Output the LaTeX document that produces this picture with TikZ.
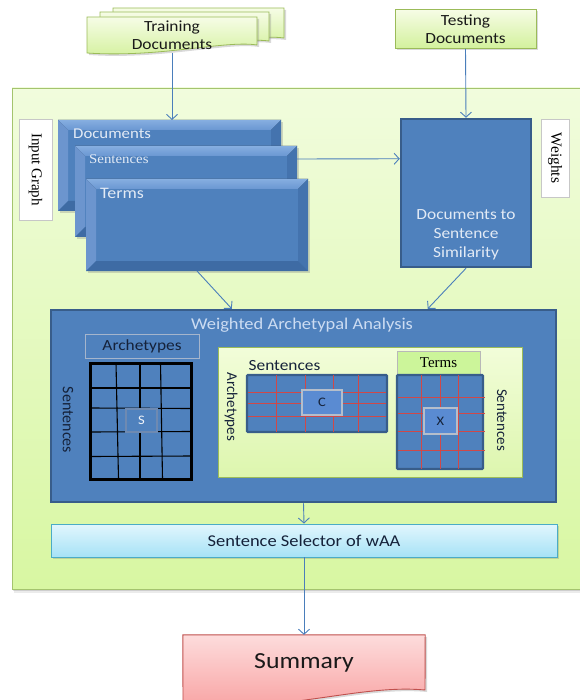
\documentclass[tikz,border=0pt]{standalone}
\usepackage{fontspec}
\setmainfont{Carlito}[FakeStretch=1.12]
\newfontfamily\rotsans{Carlito}
\newfontfamily\serifw{Liberation Serif}[FakeStretch=1.1]
\newfontfamily\serifr{Liberation Serif}
\usetikzlibrary{arrows.meta,calc,shadows}

\definecolor{wablue}{HTML}{4F81BD}
\definecolor{wadark}{HTML}{385D8A}
\definecolor{connc}{HTML}{4A7EBB}
\definecolor{lighttext}{HTML}{E2EAF5}
\definecolor{titletext}{HTML}{CCDCF2}
\definecolor{darktext}{HTML}{15223A}
\definecolor{gridred}{HTML}{D04848}
\definecolor{greenedge}{HTML}{9BBB59}
\definecolor{paneledge}{HTML}{A4C46E}
\definecolor{cellblue}{HTML}{5A8BD2}
\definecolor{celledge}{HTML}{B5BECB}
\definecolor{scelledge}{HTML}{6E8AB2}
\definecolor{scelltext}{HTML}{F2F5FA}
\definecolor{archedge}{HTML}{A5B5CC}
\definecolor{bvtopa}{HTML}{86AEE0}
\definecolor{bvtopb}{HTML}{6A97D2}
\definecolor{bvleft}{HTML}{6C95CE}
\definecolor{bvright}{HTML}{4473AE}
\definecolor{bvbottom}{HTML}{3E6BA4}
\definecolor{paneltop}{HTML}{F1FCDD}
\definecolor{panelbot}{HTML}{D8F7A2}
\definecolor{doctop}{HTML}{F6FCE6}
\definecolor{docbot}{HTML}{D3F19C}
\definecolor{innertop}{HTML}{F2FDD9}
\definecolor{innerbot}{HTML}{DDF6AE}
\definecolor{termsgreen}{HTML}{CCF59A}
\definecolor{seltop}{HTML}{E2F6FD}
\definecolor{selbot}{HTML}{A6E2F6}
\definecolor{seledge}{HTML}{4BACC6}
\definecolor{sumtop}{HTML}{FDDCDC}
\definecolor{sumbot}{HTML}{F8A0A0}
\definecolor{sumedge}{HTML}{C0504D}

% bevelled edges of a raised blue box
\newcommand\bevelize[2]{%
  \fill[top color=bvtopa,bottom color=bvtopb] (#1.north west) -- (#1.north east) -- ($(#1.north east)+(-#2,#2)$) -- ($(#1.north west)+(#2,#2)$) -- cycle;
  \fill[bvleft] (#1.north west) -- ($(#1.north west)+(#2,#2)$) -- ($(#1.south west)+(#2,-#2)$) -- (#1.south west) -- cycle;
  \fill[bvright] (#1.north east) -- ($(#1.north east)+(-#2,#2)$) -- ($(#1.south east)+(-#2,-#2)$) -- (#1.south east) -- cycle;
  \fill[bvbottom] (#1.south west) -- ($(#1.south west)+(#2,-#2)$) -- ($(#1.south east)+(-#2,-#2)$) -- (#1.south east) -- cycle;
}

\begin{document}
\begin{tikzpicture}[x=1pt,y=-1pt,
  conn/.style={draw=connc,line width=0.9pt,-{Straight Barb[length=5pt,width=11pt,line width=0.9pt]}},
  softshadow/.style={drop shadow={opacity=0.3,shadow xshift=2pt,shadow yshift=-2pt}},
  greenfill/.style={top color=doctop,bottom color=docbot,draw=greenedge,line width=0.8pt},
  stackbox/.style={fill=wablue,inner sep=0pt,outer sep=0pt,softshadow},
  stacklabel/.style={anchor=base west,inner sep=0pt,text=lighttext},
  whitetag/.style={draw=black!22,fill=white,line width=0.8pt,inner sep=0pt,text=black},
  matbox/.style={fill=wablue,draw=wadark,line width=2.2pt,rounded corners=1pt,inner sep=0pt},
  cell/.style={fill=cellblue,draw=celledge,line width=1.2pt,inner sep=0pt,text=darktext},
  redgrid/.style={draw=gridred,line width=0.7pt},
  blackgrid/.style={draw=black,line width=1.1pt},
  rottext/.style={rotate=-90,inner sep=0pt,text=darktext}]
\useasboundingbox (0,0) rectangle (579,700);

% large background panel with a soft shadow
\fill[black,opacity=0.08] (14,90) rectangle (597,593);
\fill[black,opacity=0.12] (13,89) rectangle (596,591);
\draw[top color=paneltop,bottom color=panelbot,draw=paneledge,line width=0.8pt] (12,88) rectangle (595,589);

% training documents: a stack of three pages
\draw[greenfill,softshadow] (113,8) -- (284,8) -- (284,38) .. controls (255,34) and (185,46) .. (113,42) -- cycle;
\draw[greenfill,softshadow] (100,12) -- (269,12) -- (269,41) .. controls (240,37) and (170,50) .. (100,47) -- cycle;
\draw[greenfill,softshadow] (87,17) -- (257,17) -- (257,45) .. controls (225,40) and (160,58) .. (87,53) -- cycle;
\node[minimum width=170pt,minimum height=36pt,inner sep=0pt,align=center,text=black!90,
      font=\fontsize{15.5}{18}\selectfont] (train) at (172,35) {Training\\Documents};

% testing documents
\node[greenfill,softshadow,minimum width=141pt,minimum height=39pt,inner sep=0pt,align=center,text=black!90,
      font=\fontsize{15.5}{18.5}\selectfont] (test) at (465.5,29) {Testing\\Documents};

% input graph: documents, sentences, terms
\node[stackbox,minimum width=223pt,minimum height=91pt] (docs) at (169.5,165.5) {};
\bevelize{docs}{10}
\node[stacklabel,font=\fontsize{15}{18}\selectfont] at ($(docs.north west)+(15,19)$) {Documents};
\node[stackbox,minimum width=222pt,minimum height=91pt] (sents) at (186,191.5) {};
\bevelize{sents}{10}
\node[stacklabel,font=\serifw\fontsize{13.5}{16}\selectfont] at ($(sents.north west)+(14,18)$) {Sentences};
\node[stackbox,minimum width=222pt,minimum height=92pt] (terms) at (197,225) {};
\bevelize{terms}{10}
\node[stacklabel,font=\fontsize{16}{19}\selectfont] at ($(terms.north west)+(14,20)$) {Terms};

\node[whitetag,rotate=-90,minimum width=101pt,minimum height=33pt,font=\serifr\fontsize{15}{18}\selectfont] (ig) at (35.5,169.5) {Input Graph};

% similarity box
\node[fill=wablue,draw=wadark,line width=2.5pt,minimum width=130pt,minimum height=148pt,inner sep=0pt] (wts) at (466,193) {};
\node[align=center,text=lighttext,inner sep=0pt,font=\fontsize{15.5}{19}\selectfont] at ($(wts.south)+(0,-33)$) {Documents to\\Sentence\\Similarity};
\node[whitetag,rotate=-90,minimum width=78pt,minimum height=28pt,font=\serifr\fontsize{15.5}{18}\selectfont] (wlab) at (555,158) {Weights};

% connectors in the upper part
\draw[conn] (train.south) -- (docs.north -| train.south);
\draw[conn] (test.south) -- (wts.north);
\draw[conn] ($(sents.north east)+(0,13)$) -- ($(wts.north west)+(0,41)$);

% weighted archetypal analysis
\node[fill=wablue,draw=wadark,line width=2.5pt,minimum width=505pt,minimum height=192pt,inner sep=0pt] (waa) at (303.5,406) {};
\node[text=titletext,inner sep=0pt,font=\fontsize{16.5}{19}\selectfont] (waatitle) at (302,325) {Weighted Archetypal Analysis};

\draw[conn] (terms.south) -- ($(waa.north west)+(182,0)$);
\draw[conn] (wts.south) -- ($(waa.north west)+(378,0)$);

% matrix S
\node[fill=wablue,draw=archedge,line width=1pt,minimum width=114pt,minimum height=24pt,inner sep=0pt,text=darktext,
      font=\fontsize{15.5}{18}\selectfont] (archlab) at (142,346) {Archetypes};
\node[fill=wablue,draw=black,line width=3pt,minimum width=101pt,minimum height=116pt,inner sep=0pt] (smat) at (140.5,421) {};
\draw[blackgrid] (116,363) -- (118.5,479);
\draw[blackgrid] (140,363) -- (140,479);
\draw[blackgrid] (160.5,363) -- (162.5,479);
\draw[blackgrid] (90,388) -- (191,388);
\draw[blackgrid] (90,408) -- (191,408.5);
\draw[blackgrid] (90,432) -- (191,431.5);
\draw[blackgrid] (90,456.5) -- (192.5,456);
\node[fill=wablue,draw=scelledge,line width=2pt,minimum width=31pt,minimum height=23pt,inner sep=0pt,text=scelltext,
      font=\fontsize{13}{15}\selectfont] (scell) at (141.5,420.5) {S};
\node[rottext,font=\rotsans\fontsize{16}{18}\selectfont] (ssent) at (68,420) {Sentences};

% inner panel with matrices C and X
\draw[top color=innertop,bottom color=innerbot,draw=greenedge,line width=0.8pt] (218,347) rectangle (522,477);
\node[inner sep=0pt,text=darktext,font=\fontsize{15.5}{18}\selectfont] (csent) at (284.5,366) {Sentences};
\node[rottext,font=\rotsans\fontsize{15}{18}\selectfont] (carch) at (231,407) {Archetypes};

\node[matbox,minimum width=140pt,minimum height=57pt] (cmat) at (317,403.5) {};
\foreach \gx in {276,305,333,358} \draw[redgrid] (\gx,375) -- (\gx,432);
\foreach \gy in {392,403,416} \draw[redgrid] (248,\gy) -- (386,\gy);
\node[cell,minimum width=40pt,minimum height=25pt,font=\fontsize{13}{15}\selectfont] (ccell) at (322,402.5) {C};

\node[fill=termsgreen,draw=black!28,line width=1pt,minimum width=83pt,minimum height=24pt,inner sep=0pt,text=black,
      font=\serifr\fontsize{15}{18}\selectfont] (tlab) at (438.5,363) {Terms};
\node[matbox,minimum width=86pt,minimum height=94pt] (xmat) at (440,422) {};
\foreach \gx in {421,440,458} \draw[redgrid] (\gx,375) -- (\gx,469);
\foreach \gy in {397,413,431,450} \draw[redgrid] (398,\gy) -- (485,\gy);
\node[cell,minimum width=33pt,minimum height=26pt,font=\fontsize{13}{15}\selectfont] (xcell) at (440.5,421) {X};
\node[rottext,font=\rotsans\fontsize{15}{18}\selectfont] (xsent) at (502,420) {Sentences};

% sentence selector and summary
\node[top color=seltop,bottom color=selbot,draw=seledge,line width=0.9pt,softshadow,minimum width=506pt,minimum height=33pt,
      inner sep=0pt,text=darktext,font=\fontsize{16.5}{19}\selectfont] (sel) at (304,540.5) {Sentence Selector of wAA};
\draw[conn] (waa.south) -- (sel.north);

\node[minimum width=242pt,minimum height=55pt,inner sep=0pt] (summ) at (304,662.5) {};
\draw[top color=sumtop,bottom color=sumbot,draw=sumedge,line width=0.9pt,softshadow]
  (summ.north west) -- (summ.north east) -- (425,690) .. controls (360,684) and (290,712) .. (183,706) -- cycle;
\node[inner sep=0pt,text=black!90,font=\fontsize{23}{26}\selectfont] at (304,663) {Summary};
\draw[conn] (sel.south) -- (summ.north);
\end{tikzpicture}
\end{document}
